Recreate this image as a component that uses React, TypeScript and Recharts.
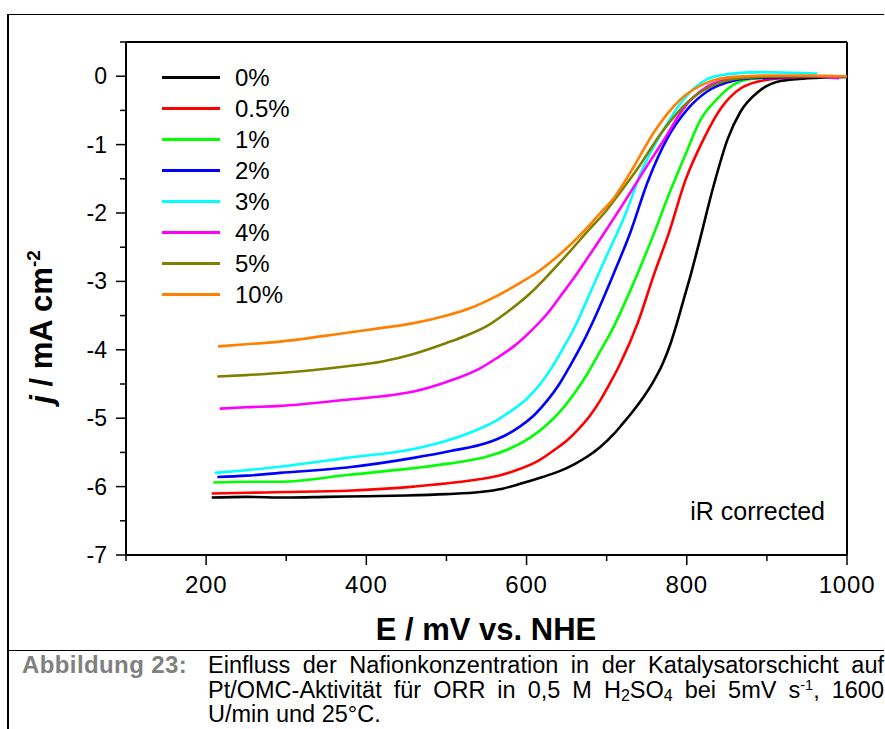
import React from "react";
import { LineChart, Line, XAxis, YAxis, Legend, ReferenceLine, Label } from "recharts";

const FONT = '"Liberation Sans", Arial, Helvetica, sans-serif';

// [E in mV vs. NHE, j in mA cm^-2]
const nafion0: [number, number][] = [
  [207, -6.16], [250, -6.15], [300, -6.16], [350, -6.15], [400, -6.14], [450, -6.13],
  [500, -6.11], [542, -6.08], [570, -6.03], [592, -5.96], [620, -5.86], [642, -5.77],
  [660, -5.67], [676, -5.56], [692, -5.42], [709, -5.23], [720, -5.08], [734, -4.88],
  [746, -4.69], [759, -4.45], [770, -4.2], [780, -3.9], [788, -3.6], [796, -3.27],
  [805, -2.9], [814, -2.5], [834, -1.58], [851, -0.92], [867, -0.52], [889, -0.23],
  [917, -0.07], [951, -0.03], [1000, -0.01],
];
const nafion05: [number, number][] = [
  [207, -6.1], [250, -6.09], [300, -6.08], [376, -6.06], [459, -6.0], [542, -5.89],
  [565, -5.84], [592, -5.74], [615, -5.62], [634, -5.47], [650, -5.33], [664, -5.17],
  [680, -4.95], [692, -4.74], [705, -4.47], [717, -4.2], [739, -3.6], [759, -2.9],
  [778, -2.28], [798, -1.53], [821, -0.92], [842, -0.48], [867, -0.18], [901, -0.05],
  [950, -0.01], [1000, 0],
];
const nafion1: [number, number][] = [
  [209, -5.94], [250, -5.93], [292, -5.93], [376, -5.83], [459, -5.73], [505, -5.66],
  [551, -5.56], [580, -5.44], [605, -5.28], [625, -5.1], [642, -4.9], [660, -4.63],
  [676, -4.35], [690, -4.06], [705, -3.75], [730, -3.12], [757, -2.36], [778, -1.72],
  [801, -1.07], [817, -0.64], [839, -0.32], [855, -0.15], [880, -0.04], [930, -0.01],
  [1000, 0],
];
const nafion2: [number, number][] = [
  [214, -5.86], [250, -5.84], [292, -5.8], [376, -5.72], [459, -5.58], [505, -5.48],
  [551, -5.36], [572, -5.26], [592, -5.12], [610, -4.95], [626, -4.74], [641, -4.5],
  [655, -4.22], [670, -3.9], [684, -3.56], [709, -2.88], [730, -2.27], [751, -1.55],
  [776, -0.9], [801, -0.48], [826, -0.22], [851, -0.09], [880, -0.03], [1000, 0],
];
const nafion3: [number, number][] = [
  [211, -5.8], [250, -5.76], [292, -5.71], [376, -5.58], [459, -5.45], [500, -5.33],
  [542, -5.15], [560, -5.05], [580, -4.9], [600, -4.72], [617, -4.5], [632, -4.25],
  [646, -3.97], [660, -3.67], [671, -3.39], [686, -2.99], [701, -2.6], [724, -2.0],
  [742, -1.43], [771, -0.78], [796, -0.34], [826, -0.04], [851, 0.03], [892, 0.06],
  [930, 0.05], [963, 0.04],
];
const nafion4: [number, number][] = [
  [217, -4.86], [250, -4.84], [292, -4.82], [376, -4.73], [420, -4.68], [459, -4.61],
  [500, -4.47], [542, -4.27], [563, -4.12], [584, -3.95], [605, -3.73], [626, -3.47],
  [642, -3.22], [659, -2.95], [676, -2.66], [692, -2.38], [721, -1.86], [751, -1.3],
  [772, -0.92], [796, -0.47], [826, -0.15], [859, -0.03], [900, 0], [950, 0],
  [980, -0.02], [990, -0.03],
];
const nafion5: [number, number][] = [
  [214, -4.39], [250, -4.37], [292, -4.34], [376, -4.24], [420, -4.17], [459, -4.06],
  [500, -3.9], [525, -3.79], [551, -3.65], [578, -3.43], [605, -3.17], [630, -2.87],
  [655, -2.55], [676, -2.27], [697, -2.0], [718, -1.68], [738, -1.36], [770, -0.8],
  [801, -0.38], [830, -0.15], [867, -0.03], [920, 0], [1000, 0],
];
const nafion10: [number, number][] = [
  [215, -3.95], [250, -3.92], [292, -3.88], [376, -3.75], [420, -3.68], [459, -3.61],
  [500, -3.5], [530, -3.39], [560, -3.23], [592, -3.02], [613, -2.87], [634, -2.68],
  [655, -2.46], [676, -2.21], [692, -2.0], [709, -1.78], [734, -1.32], [759, -0.82],
  [792, -0.34], [826, -0.09], [859, -0.01], [900, 0.01], [950, 0.01], [1000, 0],
];

const SERIES = [
  { name: "0%", color: "#000000", points: nafion0 },
  { name: "0.5%", color: "#ff0000", points: nafion05 },
  { name: "1%", color: "#00ff00", points: nafion1 },
  { name: "2%", color: "#0000ff", points: nafion2 },
  { name: "3%", color: "#00ffff", points: nafion3 },
  { name: "4%", color: "#ff00ff", points: nafion4 },
  { name: "5%", color: "#808000", points: nafion5 },
  { name: "10%", color: "#ff8000", points: nafion10 },
];
const SERIES_ORDER = SERIES.map((s) => s.name);

const X_TICKS = [100, 200, 300, 400, 500, 600, 700, 800, 900, 1000];
const X_LABELED = [200, 400, 600, 800, 1000];
const Y_TICKS = [-7, -6.5, -6, -5.5, -5, -4.5, -4, -3.5, -3, -2.5, -2, -1.5, -1, -0.5, 0, 0.5];
const Y_LABELED = [-7, -6, -5, -4, -3, -2, -1, 0];

const XTick = (props: any) => {
  const { x, y, payload } = props;
  const major = X_LABELED.includes(payload.value);
  return (
    <g>
      <line x1={x} x2={x} y1={y} y2={y + (major ? 10 : 6)} stroke="#000" strokeWidth={1.5} />
      {major && (
        <text
          x={x}
          y={y + 38}
          textAnchor="middle"
          fontSize={24}
          letterSpacing={0.8}
          fontFamily={FONT}
          fill="#000"
        >
          {payload.value}
        </text>
      )}
    </g>
  );
};

const YTick = (props: any) => {
  const { x, y, payload } = props;
  const major = Y_LABELED.includes(payload.value);
  return (
    <g>
      <line x1={x} x2={x - (major ? 10 : 6)} y1={y} y2={y} stroke="#000" strokeWidth={1.5} />
      {major && (
        <text x={x - 19} y={y + 8} textAnchor="end" fontSize={23} fontFamily={FONT} fill="#000">
          {payload.value}
        </text>
      )}
    </g>
  );
};

const XTitle = () => (
  <text x={486} y={640} textAnchor="middle" fontSize={31} fontWeight="bold" fontFamily={FONT} fill="#000">
    E / mV vs. NHE
  </text>
);

const IrNote = () => (
  <text x={825} y={520} textAnchor="end" fontSize={25} fontFamily={FONT} fill="#000">
    iR corrected
  </text>
);

const YTitle = () => (
  <text
    transform="translate(52,327) rotate(-90)"
    textAnchor="middle"
    fontSize={31}
    fontWeight="bold"
    fontFamily={FONT}
    fill="#000"
  >
    <tspan fontStyle="italic">j</tspan> / mA cm
    <tspan dy={-12} fontSize={19}>-2</tspan>
  </text>
);

const LegendBox = ({ payload }: any) => {
  const items = [...(payload || [])].sort(
    (a: any, b: any) => SERIES_ORDER.indexOf(a.value) - SERIES_ORDER.indexOf(b.value),
  );
  return (
    <div style={{ fontFamily: FONT, fontSize: 24, color: "#000" }}>
      {items.map((p: any) => (
        <div key={p.value} style={{ display: "flex", alignItems: "center", height: 31 }}>
          <span style={{ display: "inline-block", width: 58, height: 3, background: p.color }} />
          <span style={{ marginLeft: 15, lineHeight: "31px" }}>{p.value}</span>
        </div>
      ))}
    </div>
  );
};

const sub = { fontSize: "0.68em", position: "relative", top: "0.25em", lineHeight: 0 } as React.CSSProperties;
const sup = { fontSize: "0.62em", position: "relative", top: "-0.55em", lineHeight: 0 } as React.CSSProperties;

export default function App() {
  return (
    <div
      style={{
        position: "absolute",
        left: 0,
        top: 0,
        width: 885,
        height: 729,
        background: "#fff",
        overflow: "hidden",
        fontFamily: FONT,
      }}
    >
      {/* page frame */}
      <div style={{ position: "absolute", left: 8, top: 14, width: 876, height: 1, background: "#000" }} />
      <div style={{ position: "absolute", left: 7, top: 14, width: 2, height: 715, background: "#000" }} />
      <div style={{ position: "absolute", left: 8, top: 650, width: 876, height: 1, background: "#000" }} />

      <div style={{ position: "absolute", left: 0, top: 0 }}>
        <LineChart width={885} height={650} margin={{ top: 42, right: 38, bottom: 0, left: 0 }}>
          <XAxis
            type="number"
            dataKey="E"
            domain={[100, 1000]}
            ticks={X_TICKS}
            interval={0}
            allowDataOverflow
            height={95}
            tickSize={0}
            tickMargin={0}
            tickLine={false}
            tick={<XTick />}
            axisLine={{ stroke: "#000", strokeWidth: 2 }}
          >
            <Label content={XTitle} />
            <Label content={IrNote} />
          </XAxis>
          <YAxis
            type="number"
            domain={[-7, 0.5]}
            ticks={Y_TICKS}
            interval={0}
            allowDataOverflow
            width={126}
            tickSize={0}
            tickMargin={0}
            tickLine={false}
            tick={<YTick />}
            axisLine={{ stroke: "#000", strokeWidth: 2 }}
          >
            <Label content={YTitle} />
          </YAxis>
          <ReferenceLine y={0.5} stroke="#000" strokeWidth={2} ifOverflow="visible" />
          <ReferenceLine x={1000} stroke="#000" strokeWidth={2} ifOverflow="visible" />
          {SERIES.map((s) => (
            <Line
              key={s.name}
              name={s.name}
              data={s.points.map(([E, j]) => ({ E, j }))}
              dataKey="j"
              type="monotone"
              stroke={s.color}
              strokeWidth={2.6}
              dot={false}
              isAnimationActive={false}
            />
          ))}
          <Legend
            layout="vertical"
            align="center"
            verticalAlign="middle"
            wrapperStyle={{ left: 162, top: 62, width: 130 }}
            content={<LegendBox />}
          />
        </LineChart>
      </div>

      {/* caption */}
      <div
        style={{
          position: "absolute",
          left: 22,
          top: 653,
          fontSize: 24,
          lineHeight: "24.5px",
          fontWeight: "bold",
          letterSpacing: 0.4,
          color: "#808080",
        }}
      >
        Abbildung 23:
      </div>
      <div
        style={{
          position: "absolute",
          left: 208,
          top: 653,
          width: 676,
          fontSize: 23.5,
          lineHeight: "24.5px",
          color: "#000",
        }}
      >
        <div style={{ textAlign: "justify", textAlignLast: "justify" }}>
          Einfluss der Nafionkonzentration in der Katalysatorschicht auf
        </div>
        <div style={{ textAlign: "justify", textAlignLast: "justify" }}>
          Pt/OMC-Aktivität für ORR in 0,5 M H<span style={sub}>2</span>SO<span style={sub}>4</span> bei 5mV s
          <span style={sup}>-1</span>, 1600
        </div>
        <div>U/min und 25°C.</div>
      </div>
    </div>
  );
}
